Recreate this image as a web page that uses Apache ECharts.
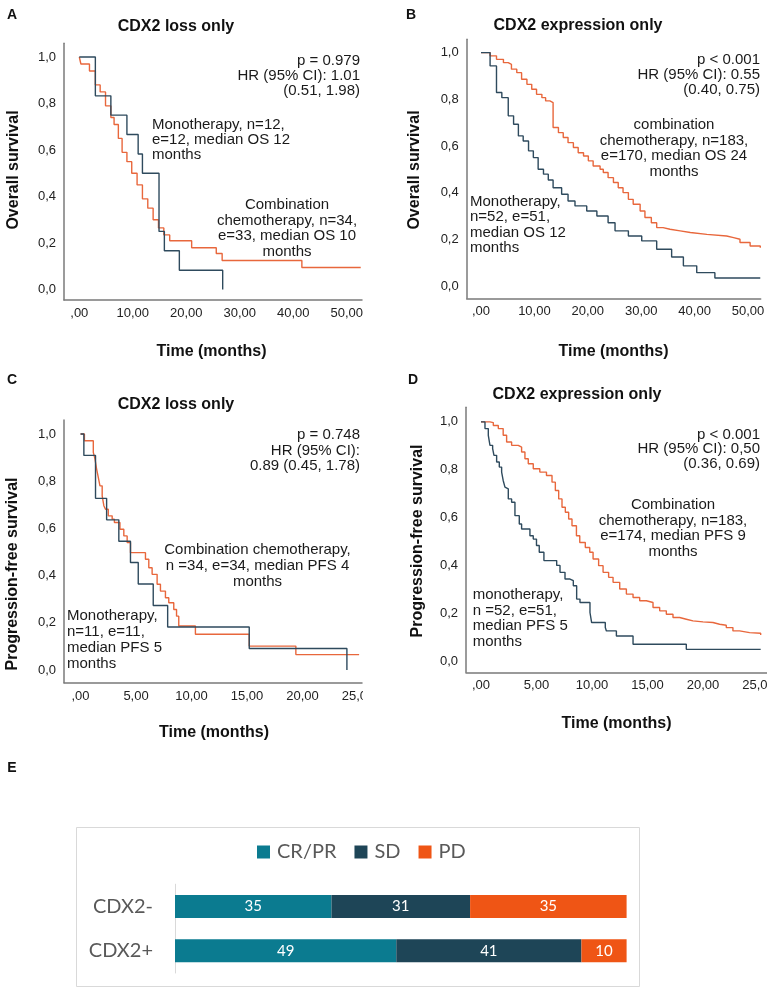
<!DOCTYPE html>
<html><head><meta charset="utf-8">
<script src="https://cdn.jsdelivr.net/npm/echarts@6/dist/echarts.min.js"></script>
<style>
html,body{margin:0;padding:0;background:#fff;}
#main{position:absolute;left:0;top:0;width:767px;height:990px;}
#panelC{position:absolute;left:0;top:0;width:363px;height:760px;}
</style></head><body>
<div id="main"></div><div id="panelC"></div>
<script>
// ---------- Data ----------
// Panel A: OS, CDX2 loss only
const aMonoT = [0, 3.0, 5.9, 8.9, 11.0, 11.8, 14.9, 15.9, 18.7, 26.8];
const aMonoS = [1.0, 0.833, 0.75, 0.667, 0.583, 0.5, 0.25, 0.167, 0.083, 0.0];
const aComboT = [0, 0.3, 1.9, 3.0, 3.9, 4.9, 5.9, 6.5, 7.3, 8.0, 8.9, 9.8, 10.8, 11.8, 12.8, 13.8, 14.8, 15.8, 16.9, 21.0, 25.6, 26.7, 41.6, 52.6];
const aComboS = [1, 0.97, 0.94, 0.88, 0.85, 0.79, 0.74, 0.71, 0.65, 0.59, 0.55, 0.5, 0.45, 0.39, 0.35, 0.3, 0.265, 0.235, 0.21, 0.18, 0.155, 0.125, 0.095, 0.095];
// Panel B: OS, CDX2 expression only
const bMonoT = [0, 1.7, 2.9, 3.9, 5.1, 6.1, 7.0, 7.9, 8.9, 9.8, 10.7, 11.7, 12.6, 13.5, 15.1, 16.3, 17.6, 19.8, 21.7, 23.8, 25.1, 27.6, 30.1, 32.9, 35.7, 37.9, 40.4, 43.8, 52.3];
const bMonoS = [1, 0.943, 0.829, 0.807, 0.729, 0.693, 0.643, 0.621, 0.579, 0.55, 0.5, 0.479, 0.454, 0.421, 0.393, 0.364, 0.343, 0.321, 0.3, 0.271, 0.236, 0.214, 0.193, 0.157, 0.124, 0.086, 0.057, 0.034, 0.034];
const bComboT = [0, 1.7, 2.9, 4.2, 5.1, 5.7, 6.7, 7.6, 8.6, 9.5, 10.4, 11.4, 12.1, 12.9, 13.5, 14.5, 15.4, 16.3, 17.3, 18.2, 19.2, 20.1, 21.0, 22.3, 22.9, 23.8, 24.8, 25.7, 26.6, 27.6, 28.5, 29.8, 30.7, 31.9, 32.9, 34.1, 35.4, 37.3, 39.2, 42.3, 46.0, 47.3, 48.5, 50.4, 52.3];
const bComboS = [1, 0.986, 0.971, 0.957, 0.95, 0.929, 0.914, 0.886, 0.864, 0.843, 0.821, 0.807, 0.793, 0.786, 0.679, 0.657, 0.636, 0.614, 0.593, 0.571, 0.557, 0.536, 0.514, 0.5, 0.486, 0.464, 0.443, 0.421, 0.4, 0.371, 0.35, 0.321, 0.293, 0.271, 0.25, 0.243, 0.236, 0.229, 0.221, 0.214, 0.207, 0.2, 0.186, 0.171, 0.164];
// Panel C: PFS, CDX2 loss only
const cMonoT = [0, 0.3, 1.35, 2.35, 3.45, 4.5, 5.2, 6.55, 7.85, 15.2, 24.0];
const cMonoS = [1, 0.909, 0.727, 0.636, 0.545, 0.455, 0.364, 0.273, 0.182, 0.091, 0.0];
const cComboT = [0, 0.35, 1.15, 1.3, 1.45, 1.6, 1.75, 1.95, 2.1, 2.25, 2.5, 2.85, 3.05, 3.55, 3.9, 4.2, 4.5, 5.85, 6.15, 6.45, 6.9, 7.2, 7.65, 7.95, 8.4, 8.65, 8.85, 10.35, 15.2, 19.4, 25.1];
const cComboS = [1, 0.971, 0.922, 0.894, 0.851, 0.816, 0.78, 0.738, 0.696, 0.681, 0.653, 0.639, 0.625, 0.596, 0.568, 0.54, 0.497, 0.469, 0.433, 0.405, 0.363, 0.334, 0.306, 0.285, 0.256, 0.228, 0.186, 0.151, 0.101, 0.065, 0.065];
// Panel D: PFS, CDX2 expression only
const dMonoT = [0, 0.36, 0.66, 0.81, 1.05, 1.17, 1.41, 1.65, 1.86, 2.0, 2.16, 2.31, 2.46, 2.76, 3.06, 3.45, 3.66, 4.41, 4.71, 5.0, 5.25, 5.67, 6.82, 7.12, 7.57, 8.02, 8.32, 8.62, 8.92, 9.82, 9.97, 11.2, 11.3, 12.2, 13.7, 18.5, 25.2];
const dMonoS = [1, 0.972, 0.944, 0.902, 0.888, 0.86, 0.832, 0.811, 0.79, 0.755, 0.727, 0.72, 0.678, 0.664, 0.608, 0.573, 0.552, 0.524, 0.51, 0.483, 0.455, 0.42, 0.4, 0.371, 0.343, 0.336, 0.315, 0.259, 0.245, 0.203, 0.161, 0.14, 0.126, 0.105, 0.07, 0.049, 0.049];
const dComboT = [0, 0.81, 1.11, 1.56, 2.0, 2.31, 2.76, 3.36, 3.66, 3.96, 4.26, 4.71, 5.3, 5.9, 6.4, 6.7, 7.0, 7.3, 7.6, 7.9, 8.2, 8.6, 8.9, 9.4, 9.8, 10.1, 10.6, 11.0, 11.5, 11.9, 12.5, 13.1, 13.7, 14.3, 14.9, 15.5, 16.1, 16.7, 17.3, 17.9, 18.5, 19.1, 20.0, 20.9, 21.5, 22.1, 22.7, 23.3, 24.2, 25.2];
const dComboS = [1, 0.997, 0.985, 0.972, 0.944, 0.916, 0.902, 0.895, 0.874, 0.846, 0.825, 0.804, 0.79, 0.776, 0.748, 0.713, 0.678, 0.643, 0.622, 0.594, 0.566, 0.524, 0.496, 0.475, 0.455, 0.427, 0.399, 0.371, 0.35, 0.329, 0.301, 0.28, 0.266, 0.252, 0.245, 0.224, 0.21, 0.196, 0.182, 0.175, 0.168, 0.164, 0.161, 0.154, 0.15, 0.14, 0.126, 0.119, 0.116, 0.109];
// Tick labels
const osTicks = [0, 10, 20, 30, 40, 50];
const pfsTicks = [0, 5, 10, 15, 20, 25];
const survTicks = [0, 0.2, 0.4, 0.6, 0.8, 1.0];
// Panel E: response (stacked bars)
const respCategories = ['CDX2-', 'CDX2+'];
const respSeriesNames = ['CR/PR', 'SD', 'PD'];
const crpr = [35, 49];
const sd = [31, 41];
const pd = [35, 10];

// ---------- Styles ----------
const BLUE = '#2e4a5d', ORANGE = '#e8673c';
const AXC = '#7a7a7a';
const ARIAL = "'Liberation Sans', Arial, Helvetica, sans-serif";
const CAL = "Lato, 'Open Sans', sans-serif";
const C_CRPR = '#0b7b90', C_SD = '#1e4557', C_PD = '#ef5515';

function pairs(T, S) { return T.map((t, i) => [t, S[i]]); }
function fmtX(v) { return Math.abs(v) < 1e-9 ? ',00' : Number(v).toFixed(2).replace('.', ','); }
function fmtY(v) { return Number(v).toFixed(1).replace('.', ','); }

function kmAxes(gi, xr, xt, yr) {
  const x = {
    type: 'value', gridIndex: gi, min: xr[0], max: xr[1],
    axisLine: { show: true, onZero: false, lineStyle: { color: AXC, width: 1.5 } },
    axisTick: { show: false }, splitLine: { show: false },
    axisLabel: { customValues: xt, formatter: fmtX, color: '#222', fontSize: 13, fontFamily: ARIAL, margin: 7, showMinLabel: true, showMaxLabel: true, hideOverlap: false }
  };
  const y = {
    type: 'value', gridIndex: gi, min: yr[0], max: yr[1],
    axisLine: { show: true, onZero: false, lineStyle: { color: AXC, width: 1.5 } },
    axisTick: { show: false }, splitLine: { show: false },
    axisLabel: { customValues: survTicks, formatter: fmtY, color: '#222', fontSize: 13, fontFamily: ARIAL, margin: 8 }
  };
  return [x, y];
}
function km(gi, T, S, color) {
  return {
    type: 'line', xAxisIndex: gi, yAxisIndex: gi, step: 'end', data: pairs(T, S),
    showSymbol: false, symbol: 'none', clip: false, animation: false,
    lineStyle: { color: color, width: 1.4 }, itemStyle: { color: color }
  };
}
function txt(x, y, text, o) {
  o = o || {};
  return {
    type: 'text', x: x, y: y, silent: true, rotation: o.rot || 0,
    style: {
      text: text, fill: o.fill || '#1a1a1a', fontSize: o.size || 15, fontFamily: o.family || ARIAL,
      fontWeight: o.bold ? 'bold' : 'normal', align: o.align || 'left',
      verticalAlign: o.va || 'top', lineHeight: o.lh || 15.5
    }
  };
}
function grid(o) { return Object.assign({ outerBoundsMode: 'none', containLabel: false }, o); }

// ---------- Main chart: A, B, D, E ----------
const gA = grid({ left: 64, top: 43.3, width: 298, height: 256.7 });
const gB = grid({ left: 466.7, top: 39.3, width: 294, height: 259 });
const gD = grid({ left: 466, top: 407.3, width: 301, height: 265 });
const gE = grid({ left: 175, top: 884.2, width: 451.6, height: 88.8 });

const axA = kmAxes(0, [-2.86, 52.84], osTicks, [-0.045, 1.059]);
const axB = kmAxes(1, [-2.68, 52.38], osTicks, [-0.053, 1.057]);
const axD = kmAxes(2, [-1.35, 25.77], pfsTicks, [-0.047, 1.061]);

const rowTotals = respCategories.map((c, i) => crpr[i] + sd[i] + pd[i]);
const rawBySeries = [crpr, sd, pd];
const barColors = [C_CRPR, C_SD, C_PD];
const barSeries = rawBySeries.map((arr, si) => ({
  type: 'bar', name: respSeriesNames[si], stack: 'resp', xAxisIndex: 3, yAxisIndex: 3,
  barWidth: 23, animation: false,
  itemStyle: { color: barColors[si] },
  data: arr.map((v, i) => v / rowTotals[i] * 100),
  label: { show: true, position: 'inside', color: '#fff', fontSize: 15, fontFamily: CAL,
           formatter: p => String(arr[p.dataIndex]) }
}));

const titleB = { size: 16, bold: true, align: 'center', va: 'middle', fill: '#111' };
const axT = { size: 16, bold: true, align: 'center', va: 'middle', fill: '#111' };
const letter = { size: 14, bold: true, align: 'center', va: 'middle', fill: '#111' };

const main = echarts.init(document.getElementById('main'), null, { renderer: 'canvas' });
main.setOption({
  backgroundColor: '#ffffff',
  animation: false,
  grid: [gA, gB, gD, gE],
  xAxis: [axA[0], axB[0], axD[0], { type: 'value', gridIndex: 3, min: 0, max: 100, show: false }],
  yAxis: [axA[1], axB[1], axD[1], {
    type: 'category', gridIndex: 3, data: respCategories, inverse: true,
    axisLine: { show: true, lineStyle: { color: '#d9d9d9', width: 1 } },
    axisTick: { show: false }, splitLine: { show: false },
    axisLabel: { color: '#595959', fontSize: 20, fontFamily: CAL, margin: 22 }
  }],
  legend: {
    data: respSeriesNames, left: 257, top: 842, padding: 0, itemGap: 18,
    itemWidth: 13, itemHeight: 13, icon: 'rect',
    textStyle: { color: '#595959', fontSize: 20, fontFamily: CAL, padding: [0, 0, 0, 2] }
  },
  series: [
    km(0, aComboT, aComboS, ORANGE), km(0, aMonoT, aMonoS, BLUE),
    km(1, bComboT, bComboS, ORANGE), km(1, bMonoT, bMonoS, BLUE),
    km(2, dComboT, dComboS, ORANGE), km(2, dMonoT, dMonoS, BLUE)
  ].concat(barSeries),
  graphic: [
    // letters
    txt(12, 15, 'A', letter), txt(411, 15, 'B', letter), txt(12, 380, 'C', letter),
    txt(413, 380, 'D', letter), txt(12, 768, 'E', letter),
    // titles
    txt(176, 26.7, 'CDX2 loss only', titleB),
    txt(578, 26, 'CDX2 expression only', titleB),
    txt(577, 395, 'CDX2 expression only', titleB),
    // axis titles
    txt(13.5, 170, 'Overall survival', Object.assign({ rot: Math.PI / 2 }, axT)),
    txt(414.5, 170, 'Overall survival', Object.assign({ rot: Math.PI / 2 }, axT)),
    txt(418, 541, 'Progression-free survival', Object.assign({ rot: Math.PI / 2 }, axT)),
    txt(211.5, 351.7, 'Time (months)', axT),
    txt(613.5, 351.7, 'Time (months)', axT),
    txt(616.5, 723.3, 'Time (months)', axT),
    // panel A annotations
    txt(360, 53.5, 'p = 0.979\nHR (95% CI): 1.01\n(0.51, 1.98)', { align: 'right', lh: 15 }),
    txt(152, 117.5, 'Monotherapy, n=12,\ne=12, median OS 12\nmonths', { lh: 15 }),
    txt(287, 197.5, 'Combination\nchemotherapy, n=34,\ne=33, median OS 10\nmonths', { align: 'center', lh: 15.5 }),
    // panel B annotations
    txt(760, 52.5, 'p < 0.001\nHR (95% CI): 0.55\n(0.40, 0.75)', { align: 'right', lh: 15 }),
    txt(674, 117.5, 'combination\nchemotherapy, n=183,\ne=170, median OS 24\nmonths', { align: 'center', lh: 15.5 }),
    txt(470, 194, 'Monotherapy,\nn=52, e=51,\nmedian OS 12\nmonths', { lh: 15.5 }),
    // panel D annotations
    txt(760, 427.5, 'p < 0.001\nHR (95% CI): 0,50\n(0.36, 0.69)', { align: 'right', lh: 14.5 }),
    txt(673, 497.5, 'Combination\nchemotherapy, n=183,\ne=174, median PFS 9\nmonths', { align: 'center', lh: 15.5 }),
    txt(472.7, 587.5, 'monotherapy,\nn =52, e=51,\nmedian PFS 5\nmonths', { lh: 15.5 }),
    // panel E frame
    { type: 'rect', silent: true, shape: { x: 76.5, y: 827.5, width: 563, height: 159 },
      style: { fill: 'none', stroke: '#d9d9d9', lineWidth: 1 } }
  ]
});

// ---------- Panel C (own canvas, clipped at right like the reference) ----------
const gC = grid({ left: 64, top: 420, width: 298, height: 262.7 });
const axC = kmAxes(0, [-1.49, 25.36], pfsTicks, [-0.054, 1.059]);
const chartC = echarts.init(document.getElementById('panelC'), null, { renderer: 'canvas' });
chartC.setOption({
  backgroundColor: 'transparent',
  animation: false,
  grid: [gC],
  xAxis: [axC[0]], yAxis: [axC[1]],
  series: [km(0, cComboT, cComboS, ORANGE), km(0, cMonoT, cMonoS, BLUE)],
  graphic: [
    txt(176, 405, 'CDX2 loss only', titleB),
    txt(13, 574, 'Progression-free survival', Object.assign({ rot: Math.PI / 2 }, axT)),
    txt(214, 732.7, 'Time (months)', axT),
    txt(360, 427.5, 'p = 0.748\nHR (95% CI):\n0.89 (0.45, 1.78)', { align: 'right', lh: 15.5 }),
    txt(257.5, 542, 'Combination chemotherapy,\nn =34, e=34, median PFS 4\nmonths', { align: 'center', lh: 16 }),
    txt(67, 607.5, 'Monotherapy,\nn=11, e=11,\nmedian PFS 5\nmonths', { lh: 16 })
  ]
});
</script>
</body></html>
